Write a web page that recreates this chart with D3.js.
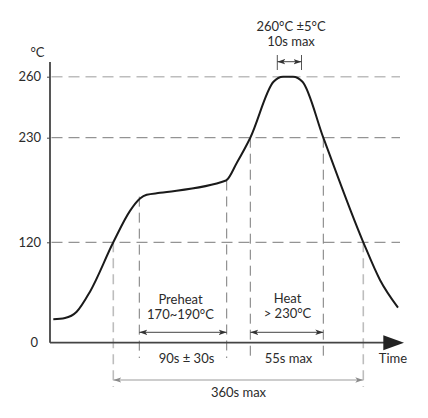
<!DOCTYPE html>
<html>
<head>
<meta charset="utf-8">
<script src="https://cdn.jsdelivr.net/npm/d3@7"></script>
<style>
  body { margin: 0; background: #fff; }
  text { font-family: Lato, "Open Sans", sans-serif; fill: #2b2b2b; }
</style>
</head>
<body>
<div id="chart"></div>
<script>
// reflow profile, schematic time units (not to scale)
const profileTime = [3.3, 15, 26.7, 40, 63.3, 80, 90, 96.7, 110, 176, 187, 200.3, 223.5, 233, 243, 252.5, 273.3, 313.3, 330, 348];
const profileTemp = [28, 29.5, 37, 61, 120, 153, 166, 170, 172, 185, 204, 230, 257.5, 260, 260, 257.5, 230, 120, 75, 42];

const yTicks = [0, 120, 230, 260];
const guideTemps = [260, 230, 120];

// key moments on the time axis
const t120Up = 63.3, preheatStart = 89.3, preheatEnd = 176.7, t230Up = 200.3;
const peakStart = 227.3, peakEnd = 251.5, t230Down = 273.3, t120Down = 313.3;
const preheatStartTemp = 168, preheatEndTemp = 185;

const labels = {
  peak: ["260°C ±5°C", "10s max"],
  preheat: ["Preheat", "170~190°C"],
  heat: ["Heat", "> 230°C"],
  preheatTime: "90s ± 30s",
  heatTime: "55s max",
  total: "360s max",
  xTitle: "Time",
  yTitle: "°C"
};

const W = 428, H = 418;
const svg = d3.select("#chart").append("svg").attr("width", W).attr("height", H);

const x = d3.scaleLinear().domain([0, 355]).range([50, 405]);
// the drawing is schematic: each band between ticks has its own spacing
const y = d3.scaleLinear().domain([0, 120, 230, 260]).range([342.7, 242.3, 137.7, 76.7]);

const dark = "#222", mid = "#7a7a7a", light = "#bdbdbd";

const defs = svg.append("defs");
function marker(id, color) {
  defs.append("marker")
    .attr("id", id)
    .attr("viewBox", "0 0 8 6")
    .attr("refX", 8).attr("refY", 3)
    .attr("markerWidth", 8).attr("markerHeight", 6)
    .attr("markerUnits", "userSpaceOnUse")
    .attr("orient", "auto-start-reverse")
    .append("path")
    .attr("d", "M0,0.3 L8,3 L0,5.7 L2,3 Z")
    .attr("fill", color);
}
marker("arr", "#333");
marker("arrLight", "#8a8a8a");

// horizontal guides
svg.append("g").selectAll("line")
  .data(guideTemps)
  .join("line")
  .attr("x1", x(1.5)).attr("x2", x(350))
  .attr("y1", d => y(d)).attr("y2", d => y(d))
  .attr("stroke", d => d === 260 ? light : mid)
  .attr("stroke-width", d => d === 260 ? 1.6 : 1)
  .attr("stroke-dasharray", "11,6");

// vertical guides
const vGuides = [
  { t: preheatStart, top: y(preheatStartTemp), bottom: 358, c: mid },
  { t: preheatEnd, top: y(preheatEndTemp), bottom: 358, c: mid },
  { t: t230Up, top: y(230), bottom: 361, c: mid },
  { t: t230Down, top: y(230), bottom: 357, c: mid },
  { t: t120Up, top: y(120), bottom: 387, c: light },
  { t: t120Down, top: y(120), bottom: 387, c: light }
];
svg.append("g").selectAll("line")
  .data(vGuides)
  .join("line")
  .attr("x1", d => x(d.t)).attr("x2", d => x(d.t))
  .attr("y1", d => d.top).attr("y2", d => d.bottom)
  .attr("stroke", d => d.c)
  .attr("stroke-width", d => d.c === light ? 1.6 : 1)
  .attr("stroke-dasharray", "10,6");

// peak window ticks
svg.append("g").selectAll("line")
  .data([peakStart, peakEnd])
  .join("line")
  .attr("x1", d => x(d)).attr("x2", d => x(d))
  .attr("y1", 55).attr("y2", 70)
  .attr("stroke", "#555").attr("stroke-width", 1);

// double arrows
function span(t0, t1, yy, color, mk, sw) {
  svg.append("line")
    .attr("x1", x(t0)).attr("x2", x(t1))
    .attr("y1", yy).attr("y2", yy)
    .attr("stroke", color).attr("stroke-width", sw)
    .attr("marker-start", `url(#${mk})`)
    .attr("marker-end", `url(#${mk})`);
}
span(peakStart, peakEnd, 61.7, "#444", "arr", 1);
span(preheatStart, preheatEnd, 332.3, "#444", "arr", 1);
span(t230Up, t230Down, 332.3, "#444", "arr", 1);
span(t120Up, t120Down, 380, light, "arrLight", 1.6);

// y axis
const yAxis = d3.axisLeft(y).tickValues(yTicks).tickSize(3).tickPadding(6);
const gy = svg.append("g").attr("transform", `translate(${x(0)},0)`).call(yAxis);
gy.select(".domain").remove();
gy.selectAll(".tick line").attr("stroke", "#444");
gy.selectAll(".tick text")
  .style("font-family", "Lato, sans-serif")
  .style("font-size", "13px")
  .attr("fill", "#2b2b2b")
  .attr("x", d => d === 0 ? -12 : -9);
gy.selectAll(".tick").filter(d => d === 0).select("line").remove();

svg.append("line")
  .attr("x1", x(0)).attr("x2", x(0))
  .attr("y1", 62).attr("y2", y(0))
  .attr("stroke", "#444").attr("stroke-width", 1.8);

// x axis with arrow
svg.append("line")
  .attr("x1", x(0)).attr("x2", x(334))
  .attr("y1", y(0)).attr("y2", y(0))
  .attr("stroke", "#444").attr("stroke-width", 1.8);
svg.append("path")
  .attr("d", `M${x(333.3)},${y(0) - 7.5} L${x(354)},${y(0)} L${x(333.3)},${y(0) + 7.5} Z`)
  .attr("fill", dark);

// profile curve
const line = d3.line()
  .x((d, i) => x(profileTime[i]))
  .y(d => y(d))
  .curve(d3.curveMonotoneX);
svg.append("path")
  .datum(profileTemp)
  .attr("d", line)
  .attr("fill", "none")
  .attr("stroke", "#1a1a1a")
  .attr("stroke-width", 2);

// texts
function txt(s, cx, by, anchor) {
  svg.append("text")
    .attr("x", cx).attr("y", by)
    .attr("text-anchor", anchor || "middle")
    .style("font-size", "13px")
    .text(s);
}
txt(labels.yTitle, 37.5, 57);
txt(labels.peak[0], 291, 31);
txt(labels.peak[1], 291, 46);
txt(labels.preheat[0], 180.5, 304);
txt(labels.preheat[1], 180.5, 319);
txt(labels.heat[0], 287.5, 302.5);
txt(labels.heat[1], 287.5, 317.5);
txt(labels.preheatTime, 186.5, 363);
txt(labels.heatTime, 288.5, 363);
txt(labels.total, 238.5, 397);
txt(labels.xTitle, 393, 363);
</script>
</body>
</html>
